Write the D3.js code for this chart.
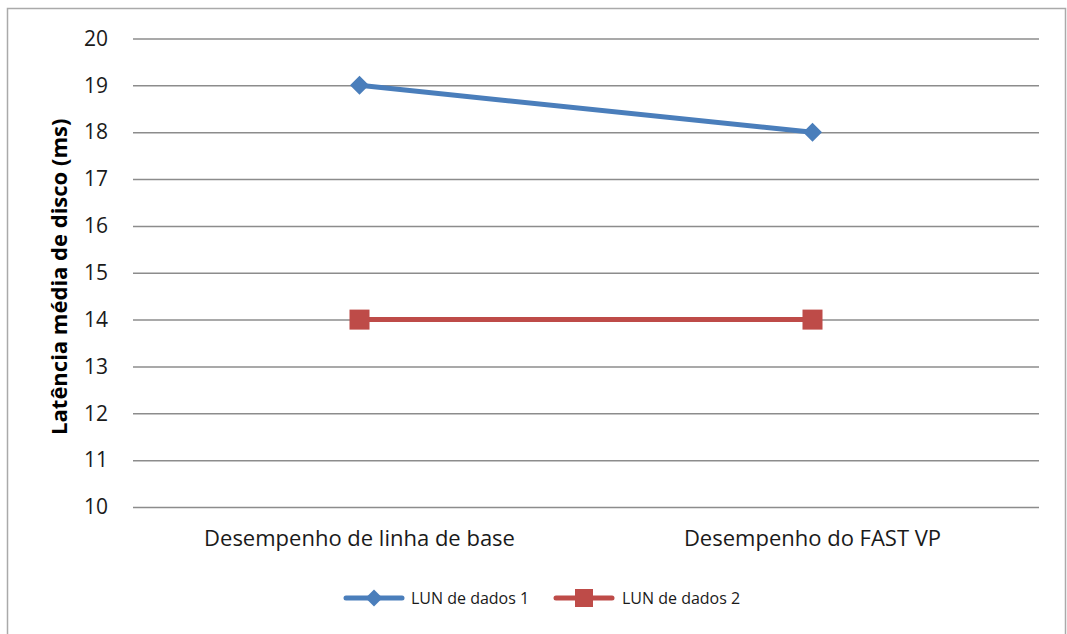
<!DOCTYPE html>
<html>
<head>
<meta charset="utf-8">
<script src="https://cdn.jsdelivr.net/npm/d3@7"></script>
<style>
  html, body { margin: 0; padding: 0; background: #fff; }
  svg { display: block; font-family: "Open Sans", sans-serif; }
</style>
</head>
<body>
<svg id="chart" width="1067" height="634"></svg>
<script>
// Data
const categories = ["Desempenho de linha de base", "Desempenho do FAST VP"];
const seriesNames = ["LUN de dados 1", "LUN de dados 2"];
const lun1 = [19, 18];
const lun2 = [14, 14];
const yTicks = [10, 11, 12, 13, 14, 15, 16, 17, 18, 19, 20];
const yTitle = "Latência média de disco (ms)";

const colors = ["#4A7EBB", "#BE4B48"];
const series = [
  { name: seriesNames[0], values: lun1, color: colors[0], marker: "diamond" },
  { name: seriesNames[1], values: lun2, color: colors[1], marker: "square" }
];

const svg = d3.select("#chart");

// Outer frame
svg.append("rect")
  .attr("x", 7.5).attr("y", 8.5)
  .attr("width", 1058).attr("height", 640)
  .attr("fill", "#fff").attr("stroke", "#aaa").attr("stroke-width", 1.5);

const plot = { left: 133, right: 1039, top: 38.5, bottom: 507 };

const x = d3.scaleBand().domain(categories).range([plot.left, plot.right]);
const y = d3.scaleLinear().domain([10, 20]).range([plot.bottom, plot.top]);

// Gridlines + y labels
const yAxis = d3.axisLeft(y).tickValues(yTicks).tickSize(-(plot.right - plot.left)).tickPadding(25);
const gy = svg.append("g").attr("transform", `translate(${plot.left},0)`).call(yAxis);
gy.select(".domain").remove();
gy.selectAll(".tick line").attr("stroke", "#8c8c8c").attr("stroke-width", 1.5);
gy.selectAll(".tick text")
  .attr("fill", "#1a1a1a").attr("font-size", 21).attr("font-family", "Open Sans");

// X labels
const xAxis = d3.axisBottom(x).tickSize(0).tickPadding(23);
const gx = svg.append("g").attr("transform", `translate(0,${plot.bottom})`).call(xAxis);
gx.select(".domain").remove();
gx.selectAll(".tick text").attr("fill", "#1a1a1a").attr("font-size", 22).attr("font-family", "Open Sans");

// Y title
svg.append("text")
  .attr("transform", `translate(67,${(plot.top + plot.bottom) / 2 + 4}) rotate(-90)`)
  .attr("text-anchor", "middle")
  .attr("font-size", 22).attr("font-weight", "bold").attr("fill", "#000")
  .text(yTitle);

const cx = c => x(c) + x.bandwidth() / 2;

function marker(g, type, color, size) {
  if (type === "diamond") {
    g.append("path")
      .attr("d", `M0,${-size}L${size},0L0,${size}L${-size},0Z`)
      .attr("fill", color);
  } else {
    g.append("rect")
      .attr("x", -size).attr("y", -size)
      .attr("width", size * 2).attr("height", size * 2)
      .attr("fill", color);
  }
}

const line = d3.line().x((d, i) => cx(categories[i])).y(d => y(d));

series.forEach(s => {
  svg.append("path")
    .datum(s.values)
    .attr("d", line)
    .attr("fill", "none")
    .attr("stroke", s.color)
    .attr("stroke-width", 5)
    .attr("stroke-linecap", "round");
  s.values.forEach((v, i) => {
    const g = svg.append("g").attr("transform", `translate(${cx(categories[i])},${y(v)})`);
    marker(g, s.marker, s.color, s.marker === "diamond" ? 9.5 : 10);
  });
});

// Legend
const legendY = 598;
const legendItems = [{ x0: 346, tx: 411 }, { x0: 556, tx: 622 }];
series.forEach((s, i) => {
  const L = legendItems[i];
  svg.append("line")
    .attr("x1", L.x0).attr("x2", L.x0 + 56)
    .attr("y1", legendY).attr("y2", legendY)
    .attr("stroke", s.color).attr("stroke-width", 5).attr("stroke-linecap", "round");
  const g = svg.append("g").attr("transform", `translate(${L.x0 + 28},${legendY})`);
  marker(g, s.marker, s.color, s.marker === "diamond" ? 8.5 : 9);
  svg.append("text")
    .attr("x", L.tx).attr("y", legendY)
    .attr("dy", "0.35em")
    .attr("font-size", 16).attr("fill", "#1a1a1a")
    .text(s.name);
});
</script>
</body>
</html>
